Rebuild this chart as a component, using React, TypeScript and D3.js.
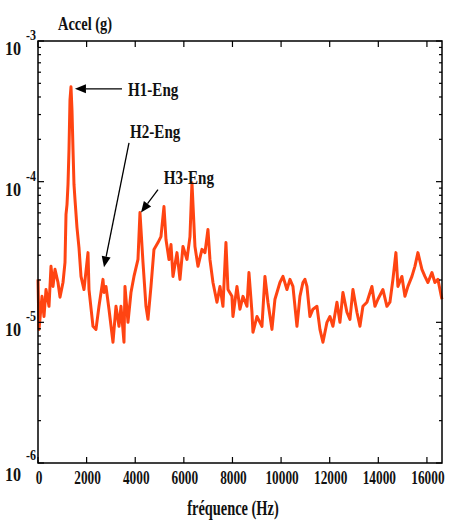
import React from "react";
import * as d3 from "d3";

const freqHz = [0, 41, 165, 247, 329, 452, 535, 617, 699, 823, 905, 1028, 1111, 1152, 1193, 1234, 1275, 1316, 1357, 1398, 1440, 1481, 1522, 1604, 1686, 1769, 1892, 2057, 2098, 2262, 2385, 2509, 2673, 2715, 2797, 2920, 3085, 3208, 3332, 3414, 3537, 3578, 3702, 3825, 3948, 4113, 4195, 4319, 4442, 4524, 4648, 4771, 4936, 5059, 5182, 5265, 5388, 5471, 5553, 5717, 5840, 5964, 6128, 6252, 6334, 6457, 6581, 6745, 6869, 6992, 7074, 7198, 7362, 7486, 7609, 7732, 7815, 7979, 8020, 8185, 8308, 8432, 8596, 8678, 8802, 8843, 9007, 9213, 9336, 9460, 9624, 9748, 9953, 10077, 10241, 10365, 10488, 10653, 10776, 10899, 10982, 11064, 11187, 11311, 11475, 11599, 11722, 11887, 12010, 12133, 12298, 12421, 12545, 12709, 12833, 12956, 13120, 13244, 13367, 13532, 13737, 13861, 13984, 14190, 14354, 14478, 14601, 14724, 14807, 14971, 15095, 15218, 15383, 15506, 15629, 15794, 15917, 16041, 16205, 16328, 16452, 16616];

const accelG = [2.02e-5, 8.91e-6, 1.53e-5, 1.10e-5, 1.71e-5, 1.30e-5, 2.50e-5, 1.80e-5, 2.38e-5, 1.92e-5, 1.51e-5, 1.92e-5, 2.67e-5, 5.85e-5, 6.87e-5, 9.52e-5, 1.69e-4, 3.82e-4, 4.72e-4, 3.24e-4, 1.69e-4, 9.52e-5, 7.45e-5, 4.72e-5, 3.40e-5, 2.12e-5, 1.71e-5, 3.13e-5, 1.71e-5, 9.37e-6, 8.91e-6, 1.30e-5, 2.02e-5, 1.63e-5, 1.80e-5, 1.24e-5, 7.22e-6, 1.30e-5, 9.37e-6, 1.30e-5, 7.22e-6, 1.80e-5, 1.00e-5, 1.63e-5, 2.12e-5, 2.80e-5, 6.03e-5, 2.67e-5, 1.30e-5, 1.05e-5, 1.80e-5, 3.30e-5, 3.69e-5, 4.07e-5, 6.65e-5, 3.88e-5, 2.80e-5, 3.57e-5, 2.12e-5, 3.13e-5, 2.02e-5, 3.46e-5, 2.80e-5, 4.07e-5, 9.84e-5, 3.46e-5, 2.50e-5, 3.30e-5, 3.13e-5, 4.57e-5, 2.80e-5, 1.92e-5, 1.39e-5, 1.80e-5, 1.30e-5, 3.69e-5, 1.71e-5, 1.53e-5, 1.10e-5, 1.80e-5, 1.24e-5, 1.53e-5, 1.30e-5, 2.26e-5, 1.18e-5, 8.50e-6, 1.10e-5, 9.37e-6, 2.12e-5, 1.39e-5, 8.91e-6, 1.46e-5, 1.92e-5, 2.12e-5, 1.71e-5, 2.02e-5, 1.80e-5, 9.37e-6, 1.53e-5, 1.92e-5, 2.02e-5, 1.80e-5, 1.10e-5, 1.24e-5, 1.30e-5, 8.91e-6, 7.22e-6, 1.00e-5, 1.10e-5, 9.37e-6, 1.39e-5, 1.00e-5, 1.63e-5, 1.18e-5, 1.05e-5, 1.71e-5, 1.18e-5, 9.37e-6, 1.30e-5, 1.39e-5, 1.80e-5, 1.30e-5, 1.46e-5, 1.71e-5, 1.30e-5, 1.39e-5, 2.02e-5, 3.13e-5, 1.80e-5, 2.12e-5, 1.53e-5, 1.80e-5, 2.12e-5, 2.50e-5, 3.13e-5, 2.38e-5, 2.12e-5, 1.92e-5, 2.26e-5, 1.92e-5, 2.02e-5, 1.46e-5];

const xTicks = [0, 2000, 4000, 6000, 8000, 10000, 12000, 14000, 16000];
const yDecades = [-6, -5, -4, -3];

const annotLabels = ["H1-Eng", "H2-Eng", "H3-Eng"];
const annotTipF = [1520, 2715, 4236];
const annotTipA = [4.57e-4, 2.46e-5, 6.03e-5];
const annotTailF = [3455, 3743, 4936];
const annotTailA = [4.57e-4, 1.89e-4, 8.78e-5];
const annotTextF = [3702, 3785, 5170];
const annotTextA = [4.07e-4, 2.05e-4, 9.68e-5];

const W = 449, H = 522;
const L = 38, R = 442, T = 41, B = 463;

const FONT = "'Liberation Serif', 'Times New Roman', serif";

function Txt({ x, y, size, sx = 0.78, anchor = "start", children }: any) {
  return (
    <text
      transform={`translate(${x},${y}) scale(${sx},1)`}
      fontFamily={FONT}
      fontWeight="bold"
      fontSize={size}
      textAnchor={anchor}
      fill="#111"
    >
      {children}
    </text>
  );
}

export default function App() {
  const x = d3.scaleLinear().domain([0, 16620]).range([L, R]);
  const y = d3.scaleLog().domain([1e-6, 1e-3]).range([B, T]);
  const pts: [number, number][] = freqHz.map((f, i) => [f, accelG[i]]);
  const line = d3
    .line<[number, number]>()
    .x((d) => x(d[0]))
    .y((d) => y(d[1]));

  const minor: number[] = [];
  for (let e = -6; e < -3; e++) for (let k = 2; k <= 9; k++) minor.push(k * Math.pow(10, e));

  return (
    <svg width={W} height={H} style={{ position: "absolute", left: 0, top: 0, background: "#fff" }}>
      <path d={line(pts) || ""} fill="none" stroke="#ff4412" strokeWidth={3} strokeLinejoin="round" />
      {/* frame */}
      <rect x={L} y={T} width={R - L} height={B - T} fill="none" stroke="#000" strokeWidth={1.5} />
      {/* x ticks */}
      {xTicks.map((t) => (
        <g key={"xt" + t}>
          <line x1={x(t)} x2={x(t)} y1={B} y2={B - 6} stroke="#000" strokeWidth={1.2} />
          <line x1={x(t)} x2={x(t)} y1={T} y2={T + 6} stroke="#000" strokeWidth={1.2} />
          <Txt x={x(t) + 1} y={484} size={18} sx={0.74} anchor="middle">
            {String(t)}
          </Txt>
        </g>
      ))}
      {/* y ticks */}
      {yDecades.map((e) => (
        <g key={"yt" + e}>
          <line x1={L} x2={L + 6} y1={y(Math.pow(10, e))} y2={y(Math.pow(10, e))} stroke="#000" strokeWidth={1.2} />
          <line x1={R} x2={R - 6} y1={y(Math.pow(10, e))} y2={y(Math.pow(10, e))} stroke="#000" strokeWidth={1.2} />
          <Txt x={5} y={y(Math.pow(10, e)) + (e === -6 ? 18 : 14)} size={19} sx={0.85}>
            10
          </Txt>
          <Txt x={26} y={y(Math.pow(10, e)) + (e === -6 ? -3 : -1)} size={15} sx={0.8}>
            {String(e)}
          </Txt>
        </g>
      ))}
      {minor.map((v, i) => (
        <g key={"mn" + i}>
          <line x1={L} x2={L + 3} y1={y(v)} y2={y(v)} stroke="#000" strokeWidth={1.2} />
          <line x1={R} x2={R - 3} y1={y(v)} y2={y(v)} stroke="#000" strokeWidth={1.2} />
        </g>
      ))}
      {/* titles */}
      <Txt x={58} y={30} size={19} sx={0.76}>
        Accel (g)
      </Txt>
      <Txt x={233} y={515} size={20} sx={0.72} anchor="middle">
        fréquence (Hz)
      </Txt>
      {/* annotations */}
      {annotLabels.map((lab, i) => {
        const x1 = x(annotTailF[i]), y1 = y(annotTailA[i]);
        const x2 = x(annotTipF[i]), y2 = y(annotTipA[i]);
        const ang = Math.atan2(y2 - y1, x2 - x1);
        const len = 11, half = 4.5;
        const bx = x2 - len * Math.cos(ang), by = y2 - len * Math.sin(ang);
        const px = -Math.sin(ang), py = Math.cos(ang);
        const head = `M${x2},${y2} L${bx + half * px},${by + half * py} L${bx - half * px},${by - half * py} Z`;
        return (
          <g key={lab}>
            <line x1={x1} y1={y1} x2={bx} y2={by} stroke="#000" strokeWidth={1.3} />
            <path d={head} fill="#000" />
            <Txt x={x(annotTextF[i])} y={y(annotTextA[i])} size={18} sx={0.84}>
              {lab}
            </Txt>
          </g>
        );
      })}
    </svg>
  );
}
